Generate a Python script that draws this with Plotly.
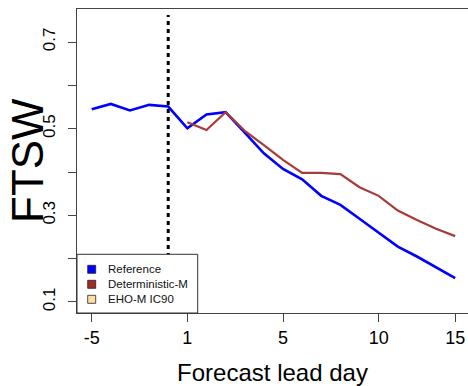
import plotly.graph_objects as go

# ---- data ----
positions = list(range(1, 21))
reference = [0.545, 0.557, 0.542, 0.555, 0.551, 0.501, 0.533, 0.538, 0.491, 0.443,
             0.407, 0.383, 0.345, 0.324, 0.292, 0.260, 0.228, 0.205, 0.180, 0.155]
deterministic = [None, None, None, None, None, 0.515, 0.497, 0.538, 0.495, 0.462,
                 0.428, 0.398, 0.398, 0.395, 0.365, 0.345, 0.311, 0.289, 0.269, 0.252]
x_tick_vals = [1, 6, 11, 16, 20]
x_tick_text = ["-5", "1", "5", "10", "15"]
y_tick_vals = [0.1, 0.2, 0.3, 0.4, 0.5, 0.6, 0.7]
y_tick_text = ["0.1", "", "0.3", "", "0.5", "", "0.7"]
forecast_start = 5
legend_names = ["Reference", "Deterministic-M", "EHO-M IC90"]
legend_colors = ["#0000FF", "#A52A2A", "#FFDEA6"]

FONT = "Liberation Sans, Arial, Helvetica, sans-serif"
W, H = 468, 386
ML, MR, MT, MB = 77, 0, 9, 73
PW, PH = W - ML - MR, H - MT - MB

fig = go.Figure()
fig.add_trace(go.Scatter(x=positions, y=reference, mode="lines",
                         line=dict(color="#0000FF", width=2.6), showlegend=False))
fig.add_trace(go.Scatter(x=positions, y=deterministic, mode="lines",
                         line=dict(color="#A83A3A", width=2.2), showlegend=False))

# vertical dotted line at forecast start
fig.add_shape(type="line", xref="x", yref="paper", x0=forecast_start, x1=forecast_start,
              y0=0, y1=0.98, line=dict(color="black", width=3, dash="4px,4px"), layer="below")

# legend box (manual, R-style)
def px_x(px):
    return (px - ML) / PW

def px_y(py):
    return (MT + PH - py) / PH

fig.add_shape(type="rect", xref="paper", yref="paper", x0=0, x1=px_x(197.7),
              y0=0, y1=px_y(254.3), fillcolor="white", line=dict(color="#333", width=1),
              layer="above")
row_y = [269.3, 284.3, 299.3]
for name, col, ry in zip(legend_names, legend_colors, row_y):
    fig.add_shape(type="rect", xref="paper", yref="paper", xsizemode="pixel", ysizemode="pixel",
                  xanchor=px_x(91.7), yanchor=px_y(ry), x0=-4, x1=4, y0=-4, y1=4,
                  fillcolor=col, line=dict(color="#222", width=0.8), layer="above")
    fig.add_annotation(xref="paper", yref="paper", x=px_x(106), y=px_y(ry), text=name,
                       showarrow=False, xanchor="left", yanchor="middle",
                       font=dict(family=FONT, size=11.5, color="#111"))

# y-axis title
fig.add_annotation(xref="paper", yref="paper", x=px_x(27), y=0.5, text="FTSW", textangle=-90,
                   showarrow=False, xanchor="center", yanchor="middle",
                   font=dict(family=FONT, size=44, color="black"))

fig.update_layout(
    width=W, height=H, margin=dict(l=ML, r=MR, t=MT, b=MB),
    paper_bgcolor="white", plot_bgcolor="white",
    font=dict(family=FONT, color="black"),
    xaxis=dict(range=[0.232, 20.67], tickvals=x_tick_vals, ticktext=x_tick_text,
               ticks="outside", ticklen=8, tickcolor="#444", showgrid=False, zeroline=False,
               showline=True, mirror=True, linecolor="#444", linewidth=1,
               tickfont=dict(size=18, family=FONT, color="black"),
               title=dict(text="Forecast lead day", font=dict(size=24, family=FONT), standoff=18)),
    yaxis=dict(range=[0.0746, 0.7762], tickvals=y_tick_vals, ticktext=y_tick_text,
               ticks="outside", ticklen=8, tickcolor="#444", showgrid=False, zeroline=False,
               showline=True, mirror=True, linecolor="#444", linewidth=1, tickangle=-90,
               ticklabelstandoff=6,
               tickfont=dict(size=17, family=FONT, color="black")),
)

fig.write_html("out.html", config={"displayModeBar": False},
               post_script="document.body.style.margin='0px';document.body.style.overflow='hidden';")
